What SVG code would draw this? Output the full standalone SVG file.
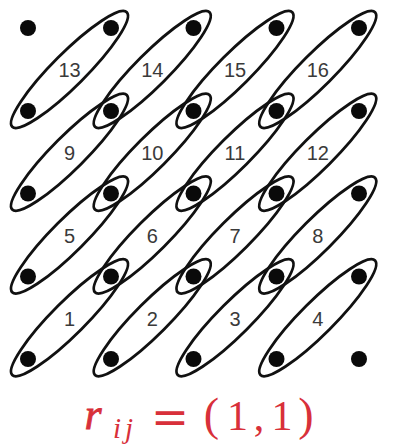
<svg xmlns="http://www.w3.org/2000/svg" xmlns:xlink="http://www.w3.org/1999/xlink" width="397" height="447" viewBox="0 0 397 447">
<style>
.ring{fill:none;stroke:#111;stroke-width:2.8}
.lbl{font-family:"Liberation Sans",Arial,sans-serif;font-size:20px;fill:#3a3a3a;text-anchor:middle}
.dot{fill:#0a0a0a}
.math{font-family:"Liberation Serif","Times New Roman",serif;fill:#d8303a}
</style>
<defs>
<ellipse id="e" cx="0" cy="0" rx="81" ry="16.5" transform="rotate(-45)"/>
</defs>
<rect width="397" height="447" fill="#ffffff"/>
<g id="pairs">
<g id="n1"><use xlink:href="#e" href="#e" class="ring" x="69.5" y="317.75"/><text class="lbl" x="69.5" y="325.5">1</text></g>
<g id="n2"><use xlink:href="#e" href="#e" class="ring" x="152.25" y="317.75"/><text class="lbl" x="152.25" y="325.5">2</text></g>
<g id="n3"><use xlink:href="#e" href="#e" class="ring" x="235" y="317.75"/><text class="lbl" x="235" y="325.5">3</text></g>
<g id="n4"><use xlink:href="#e" href="#e" class="ring" x="317.75" y="317.75"/><text class="lbl" x="317.75" y="325.5">4</text></g>
<g id="n5"><use xlink:href="#e" href="#e" class="ring" x="69.5" y="235"/><text class="lbl" x="69.5" y="242.75">5</text></g>
<g id="n6"><use xlink:href="#e" href="#e" class="ring" x="152.25" y="235"/><text class="lbl" x="152.25" y="242.75">6</text></g>
<g id="n7"><use xlink:href="#e" href="#e" class="ring" x="235" y="235"/><text class="lbl" x="235" y="242.75">7</text></g>
<g id="n8"><use xlink:href="#e" href="#e" class="ring" x="317.75" y="235"/><text class="lbl" x="317.75" y="242.75">8</text></g>
<g id="n9"><use xlink:href="#e" href="#e" class="ring" x="69.5" y="152.25"/><text class="lbl" x="69.5" y="160">9</text></g>
<g id="n10"><use xlink:href="#e" href="#e" class="ring" x="152.25" y="152.25"/><text class="lbl" x="152.25" y="160">10</text></g>
<g id="n11"><use xlink:href="#e" href="#e" class="ring" x="235" y="152.25"/><text class="lbl" x="235" y="160">11</text></g>
<g id="n12"><use xlink:href="#e" href="#e" class="ring" x="317.75" y="152.25"/><text class="lbl" x="317.75" y="160">12</text></g>
<g id="n13"><use xlink:href="#e" href="#e" class="ring" x="69.5" y="69.5"/><text class="lbl" x="69.5" y="77.25">13</text></g>
<g id="n14"><use xlink:href="#e" href="#e" class="ring" x="152.25" y="69.5"/><text class="lbl" x="152.25" y="77.25">14</text></g>
<g id="n15"><use xlink:href="#e" href="#e" class="ring" x="235" y="69.5"/><text class="lbl" x="235" y="77.25">15</text></g>
<g id="n16"><use xlink:href="#e" href="#e" class="ring" x="317.75" y="69.5"/><text class="lbl" x="317.75" y="77.25">16</text></g>
</g>
<g id="dots" class="dot">
<circle cx="28" cy="28" r="8"/><circle cx="111" cy="28" r="8"/><circle cx="193.5" cy="28" r="8"/><circle cx="276.5" cy="28" r="8"/><circle cx="359" cy="28" r="8"/>
<circle cx="28" cy="111" r="8"/><circle cx="111" cy="111" r="8"/><circle cx="193.5" cy="111" r="8"/><circle cx="276.5" cy="111" r="8"/><circle cx="359" cy="111" r="8"/>
<circle cx="28" cy="193.5" r="8"/><circle cx="111" cy="193.5" r="8"/><circle cx="193.5" cy="193.5" r="8"/><circle cx="276.5" cy="193.5" r="8"/><circle cx="359" cy="193.5" r="8"/>
<circle cx="28" cy="276.5" r="8"/><circle cx="111" cy="276.5" r="8"/><circle cx="193.5" cy="276.5" r="8"/><circle cx="276.5" cy="276.5" r="8"/><circle cx="359" cy="276.5" r="8"/>
<circle cx="28" cy="359" r="8"/><circle cx="111" cy="359" r="8"/><circle cx="193.5" cy="359" r="8"/><circle cx="276.5" cy="359" r="8"/><circle cx="359" cy="359" r="8"/>
</g>
<g id="caption" class="math">
<text x="93" y="429" font-size="44" font-style="italic" text-anchor="middle" stroke="#d8303a" stroke-width="0.8">r</text>
<text x="117" y="438" font-size="29" font-style="italic" text-anchor="middle">i</text>
<text x="129" y="438" font-size="29" font-style="italic" text-anchor="middle">j</text>
<text x="170" y="434" font-size="48" font-family="DejaVu Serif" text-anchor="middle" textLength="38" lengthAdjust="spacingAndGlyphs">=</text>
<text x="211.5" y="430" font-size="46" text-anchor="middle">(</text>
<text x="237.5" y="430" font-size="42" text-anchor="middle">1</text>
<text x="259" y="430" font-size="42" text-anchor="middle">,</text>
<text x="282" y="430" font-size="42" text-anchor="middle">1</text>
<text x="306" y="430" font-size="46" text-anchor="middle">)</text>
</g>
</svg>
